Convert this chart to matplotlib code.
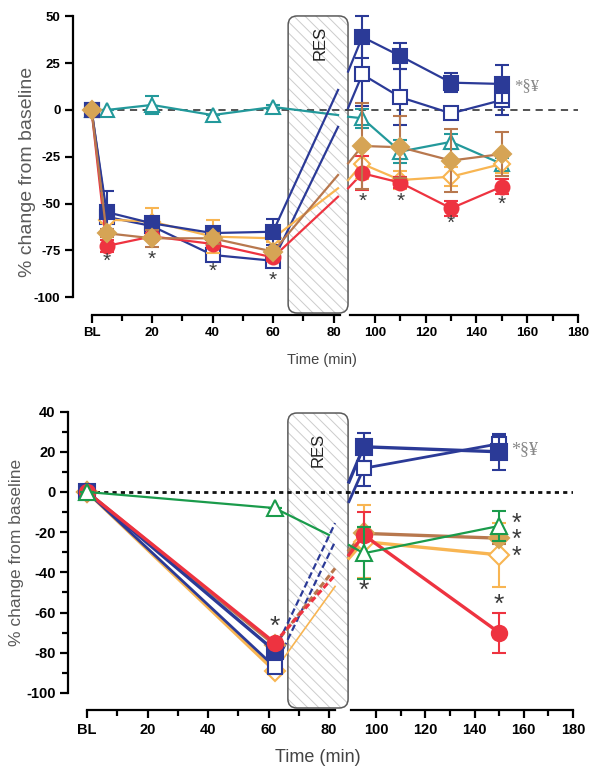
import matplotlib
matplotlib.use("Agg")
import matplotlib.pyplot as plt
from matplotlib.patches import FancyBboxPatch

plt.rcParams['font.family'] = ['Liberation Sans', 'DejaVu Sans']
plt.rcParams['hatch.linewidth'] = 0.7
plt.rcParams['axes.unicode_minus'] = False

# ---------------- data: top panel ----------------
top_t_pre = [0, 5, 20, 40, 60]
top_t_post = [95, 110, 130, 150]
top_t_exit = 81.5   # line end entering RES
top_t_entry = 89.4  # line start leaving RES

top_blue_f_pre = [0, -54.5, -60.5, -65.7, -65]
top_blue_f_pre_err = [0, 11, 3, 3, 7]
top_blue_f_exit = 10.7
top_blue_f_entry = 20.5
top_blue_f_post = [39, 28.8, 14.6, 13.9]
top_blue_f_post_err = [11, 7, 5, 10]

top_blue_o_pre = [0, -57, -62, -77.4, -80.5]
top_blue_o_pre_err = [0, 3, 3, 3, 2]
top_blue_o_exit = -9
top_blue_o_entry = 1
top_blue_o_post = [19, 6.8, -1.8, 5.3]
top_blue_o_post_err = [17, 15, 3, 8]

top_teal_pre = [0, 0, 2.7, -2.7, 1.6]
top_teal_pre_err = [0, 0, 4.8, 0, 1]
top_teal_exit = -2.7
top_teal_entry = -3.6
top_teal_post = [-4.4, -22.2, -17, -28.8]
top_teal_post_err = [5, 6, 4, 3]

top_orange_pre = [0, -58.5, -59.6, -67.6, -68.5]
top_orange_pre_err = [0, 2, 7.5, 9, 2]
top_orange_exit = -41.8
top_orange_entry = -37.5
top_orange_post = [-28.8, -37.4, -35.6, -28.8]
top_orange_post_err = [8, 5, 5, 5]

top_red_pre = [0, -72.6, -67.5, -71.5, -78.7]
top_red_pre_err = [0, 3, 2, 2, 2]
top_red_exit = -46.3
top_red_entry = -41.8
top_red_post = [-33.8, -38.8, -52.5, -40.9]
top_red_post_err = [9, 3, 4, 4]

top_brown_pre = [0, -65.8, -68.5, -68.5, -75.6]
top_brown_pre_err = [0, 2, 4.5, 3, 2]
top_brown_exit = -34.7
top_brown_entry = -28.5
top_brown_post = [-19.2, -19.9, -27, -23.5]
top_brown_post_err = [23, 16.5, 16.6, 12]

top_star_pre_t = [5, 20, 40, 60]
top_star_pre_y = [-81, -79.7, -86.3, -90.8]
top_star_post_t = [95, 110, 130, 150]
top_star_post_y = [-49, -49, -60.5, -50.5]

# ---------------- data: bottom panel ----------------
bot_t_pre = [0, 62]
bot_t_post = [95, 150]
bot_t_exit = 82
bot_t_green_exit = 80
bot_t_entry = 89

bot_blue_f_pre = [0, -79]
bot_blue_f_exit = -15.5
bot_blue_f_entry = 5
bot_blue_f_post = [22.5, 20]
bot_blue_f_post_err = [7, 9]

bot_blue_o_pre = [0, -87]
bot_blue_o_exit = -24.7
bot_blue_o_entry = -4.8
bot_blue_o_post = [11.8, 24]
bot_blue_o_post_err = [9, 4]

bot_green_pre = [0, -8]
bot_green_exit = -21.4
bot_green_entry = -26.4
bot_green_post = [-30.5, -16.9]
bot_green_post_err = [13, 7.5]

bot_orange_pre = [0, -89]
bot_orange_exit = -47
bot_orange_entry = -33
bot_orange_post = [-24.7, -31.3]
bot_orange_post_err = [18, 16]

bot_brown_pre = [0, -76]
bot_brown_exit = -38
bot_brown_entry = -29
bot_brown_post = [-20.6, -23]
bot_brown_post_err = [3, 3]

bot_red_pre = [0, -75]
bot_red_exit = -41.3
bot_red_entry = -31.3
bot_red_post = [-21.4, -70]
bot_red_post_err = [11.5, 10]

bot_star_t = [62, 95, 150]
bot_star_y = [-67, -49, -56]
bot_side_star_y_mid = -24  # centre of the three stacked asterisks right of t=150

# ---------------- colours ----------------
BLUE = '#2B3A97'
TEAL = '#23999B'
ORANGE = '#F8B552'
RED = '#EE3340'
BROWN = '#B8784E'
GOLD = '#D6A455'
GREEN = '#1A9B4B'
STAR = '#3a3a3a'

W, H = 600, 776
fig = plt.figure(figsize=(W / 100, H / 100), dpi=100)


def ax_px(left, right, top, bottom):
    return fig.add_axes([left / W, (H - bottom) / H, (right - left) / W, (bottom - top) / H])


def style_axes(ax, left_side, xb, fs):
    ax.set_facecolor('none')
    for s in ['top', 'right']:
        ax.spines[s].set_visible(False)
    ax.spines['bottom'].set_linewidth(1.6)
    ax.spines['bottom'].set_bounds(*xb)
    ax.tick_params(axis='both', direction='out', width=1.6, length=6, labelsize=fs, pad=3)
    ax.tick_params(axis='x', which='minor', direction='out', width=1.6, length=4)
    for lab in ax.get_xticklabels() + ax.get_yticklabels():
        lab.set_fontweight('bold')
    if not left_side:
        ax.spines['left'].set_visible(False)
        ax.tick_params(axis='y', left=False, labelleft=False)


def series(axL, axR, t_pre, pre, pre_err, t_exit, ex, t_entry, en, t_post, post, post_err,
           color, marker, mfc, mec, lw, ms, z, exit_ls='-', exit_lw=None):
    axL.plot([t_pre[-1], t_exit], [pre[-1], ex], color=color, lw=exit_lw or lw,
             ls=exit_ls, zorder=z - 0.5, clip_on=False)
    axL.errorbar(t_pre, pre, yerr=pre_err, color=color, lw=lw, marker=marker, ms=ms,
                 mfc=mfc, mec=mec, mew=1.5, capsize=5, capthick=1.5, elinewidth=1.5,
                 zorder=z, clip_on=False)
    axR.plot([t_entry, t_post[0]], [en, post[0]], color=color, lw=lw, zorder=z - 0.5, clip_on=False)
    axR.errorbar(t_post, post, yerr=post_err, color=color, lw=lw, marker=marker, ms=ms,
                 mfc=mfc, mec=mec, mew=1.5, capsize=5, capthick=1.5, elinewidth=1.5,
                 zorder=z, clip_on=False)


def res_box(ax, x0, x1, y0, y1, aspect, tx, ty):
    hatch = FancyBboxPatch((x0, y0), x1 - x0, y1 - y0,
                           boxstyle='round,pad=0,rounding_size=3', mutation_aspect=aspect,
                           facecolor='white', edgecolor='#cccccc', lw=0, hatch='\\\\\\',
                           zorder=1, clip_on=False)
    ax.add_patch(hatch)
    edge = FancyBboxPatch((x0, y0), x1 - x0, y1 - y0,
                          boxstyle='round,pad=0,rounding_size=3', mutation_aspect=aspect,
                          facecolor='none', edgecolor='#5a5a5a', lw=1.1, zorder=1.2, clip_on=False)
    ax.add_patch(edge)
    ax.text(tx, ty, 'RES', rotation=90, ha='center', va='center', fontsize=12,
            color='#222222', zorder=1.3)


# =============== TOP PANEL ===============
aL = ax_px(73, 349, 14, 315)
aR = ax_px(346, 578, 14, 315)
aL.set_xlim(-6.12, 85.12)
aR.set_xlim(88.58, 180)
for a in (aL, aR):
    a.set_ylim(-109.45, 51.25)
aL.spines['left'].set_bounds(-100, 50)
aL.spines['left'].set_linewidth(1.6)
aL.set_yticks([-100, -75, -50, -25, 0, 25, 50])
aL.set_xticks([0, 20, 40, 60, 80])
aL.set_xticklabels(['BL', '20', '40', '60', '80'])
aL.set_xticks([10, 30, 50, 70], minor=True)
aR.set_xticks([100, 120, 140, 160, 180])
aR.set_xticks([110, 130, 150, 170], minor=True)
style_axes(aL, True, (0, 82), 9.5)
style_axes(aR, False, (90, 180), 9.5)

res_box(aL, 65, 84.8, -108.4, 50.2, 1.6, 75.5, 36)

aL.plot([0, 85.12], [0, 0], color='#444444', lw=1.3, ls=(0, (4, 3)), zorder=1.5)
aR.plot([88.58, 180], [0, 0], color='#444444', lw=1.3, ls=(0, (4, 3)), zorder=1.5)

series(aL, aR, top_t_pre, top_blue_f_pre, top_blue_f_pre_err, top_t_exit, top_blue_f_exit,
       top_t_entry, top_blue_f_entry, top_t_post, top_blue_f_post, top_blue_f_post_err,
       BLUE, 's', BLUE, BLUE, 1.6, 10, 5)
series(aL, aR, top_t_pre, top_blue_o_pre, top_blue_o_pre_err, top_t_exit, top_blue_o_exit,
       top_t_entry, top_blue_o_entry, top_t_post, top_blue_o_post, top_blue_o_post_err,
       BLUE, 's', 'white', BLUE, 1.6, 10, 4)
series(aL, aR, top_t_pre, top_teal_pre, top_teal_pre_err, top_t_exit, top_teal_exit,
       top_t_entry, top_teal_entry, top_t_post, top_teal_post, top_teal_post_err,
       TEAL, '^', 'white', TEAL, 1.6, 10, 4.2)
series(aL, aR, top_t_pre, top_orange_pre, top_orange_pre_err, top_t_exit, top_orange_exit,
       top_t_entry, top_orange_entry, top_t_post, top_orange_post, top_orange_post_err,
       ORANGE, 'D', 'white', ORANGE, 1.6, 8, 4.4)
series(aL, aR, top_t_pre, top_red_pre, top_red_pre_err, top_t_exit, top_red_exit,
       top_t_entry, top_red_entry, top_t_post, top_red_post, top_red_post_err,
       RED, 'o', RED, RED, 1.6, 10, 4.6)
series(aL, aR, top_t_pre, top_brown_pre, top_brown_pre_err, top_t_exit, top_brown_exit,
       top_t_entry, top_brown_entry, top_t_post, top_brown_post, top_brown_post_err,
       BROWN, 'D', GOLD, GOLD, 1.6, 9, 5.5)

for t, y in zip(top_star_pre_t, top_star_pre_y):
    aL.text(t, y, '*', ha='center', va='center', fontsize=15, color=STAR, zorder=6)
for t, y in zip(top_star_post_t, top_star_post_y):
    aR.text(t, y, '*', ha='center', va='center', fontsize=15, color=STAR, zorder=6)
aR.text(155, 12.5, '*§¥', ha='left', va='center', fontsize=12, color='#888888',
        family=['Liberation Serif', 'DejaVu Serif'], zorder=6)

fig.text(28 / W, 1 - 172 / H, '% change from baseline', rotation=90, ha='center', va='center',
         fontsize=14, color='#5a5a5a')
fig.text(322 / W, 1 - 360 / H, 'Time (min)', ha='center', va='center', fontsize=10.5,
         color='#444444')

# =============== BOTTOM PANEL ===============
bL = ax_px(68, 349, 410, 710)
bR = ax_px(346, 573, 410, 710)
bL.set_xlim(-6.28, 86.6)
bR.set_xlim(87.8, 180)
for a in (bL, bR):
    a.set_ylim(-108.5, 40.8)
bL.spines['left'].set_bounds(-100, 40)
bL.spines['left'].set_linewidth(1.6)
bL.set_yticks(list(range(-100, 41, 20)))
bL.set_yticks(list(range(-90, 40, 20)), minor=True)
bL.tick_params(axis='y', which='minor', direction='out', width=1.6, length=4)
bL.set_xticks([0, 20, 40, 60, 80])
bL.set_xticklabels(['BL', '20', '40', '60', '80'])
bL.set_xticks([10, 30, 50, 70], minor=True)
bR.set_xticks([100, 120, 140, 160, 180])
bR.set_xticks([110, 130, 150, 170], minor=True)
style_axes(bL, True, (0, 82), 10.5)
style_axes(bR, False, (90, 180), 10.5)

res_box(bL, 66.4, 86.3, -107.5, 39.3, 1.5, 76.3, 21)

bL.plot([0, 86.6], [0, 0], color='#111111', lw=2.0, ls=(0, (1.5, 1.5)), zorder=1.5)
bR.plot([87.8, 180], [0, 0], color='#111111', lw=2.0, ls=(0, (1.5, 1.5)), zorder=1.5)

zero2 = [0, 0]
series(bL, bR, bot_t_pre, bot_orange_pre, zero2, bot_t_exit, bot_orange_exit,
       bot_t_entry, bot_orange_entry, bot_t_post, bot_orange_post, bot_orange_post_err,
       ORANGE, 'D', 'white', ORANGE, 2.4, 10, 4, exit_lw=1.2)
series(bL, bR, bot_t_pre, bot_blue_o_pre, zero2, bot_t_exit, bot_blue_o_exit,
       bot_t_entry, bot_blue_o_entry, bot_t_post, bot_blue_o_post, bot_blue_o_post_err,
       BLUE, 's', 'white', BLUE, 2.0, 10, 4.2, exit_ls=(0, (3, 1.5)), exit_lw=1.6)
series(bL, bR, bot_t_pre, bot_brown_pre, zero2, bot_t_exit, bot_brown_exit,
       bot_t_entry, bot_brown_entry, bot_t_post, bot_brown_post, bot_brown_post_err,
       BROWN, 'D', GOLD, GOLD, 2.4, 10, 4.4, exit_ls=(0, (2, 1)), exit_lw=2.2)
series(bL, bR, bot_t_pre, bot_blue_f_pre, zero2, bot_t_exit, bot_blue_f_exit,
       bot_t_entry, bot_blue_f_entry, bot_t_post, bot_blue_f_post, bot_blue_f_post_err,
       BLUE, 's', BLUE, BLUE, 2.4, 11, 4.6, exit_ls=(0, (3, 1.5)), exit_lw=1.6)
series(bL, bR, bot_t_pre, bot_red_pre, zero2, bot_t_exit, bot_red_exit,
       bot_t_entry, bot_red_entry, bot_t_post, bot_red_post, bot_red_post_err,
       RED, 'o', RED, RED, 2.4, 11, 4.8, exit_ls=(0, (2, 1)), exit_lw=2.2)
series(bL, bR, bot_t_pre, bot_green_pre, zero2, bot_t_green_exit, bot_green_exit,
       bot_t_entry, bot_green_entry, bot_t_post, bot_green_post, bot_green_post_err,
       GREEN, '^', 'white', GREEN, 1.6, 11, 5)

for t, y in zip(bot_star_t, bot_star_y):
    a = bL if t < 85 else bR
    a.text(t, y, '*', ha='center', va='center', fontsize=19, color=STAR, zorder=6)
bR.text(157, bot_side_star_y_mid, '*\n*\n*', ha='center', va='center', fontsize=18,
        linespacing=0.62, color=STAR, zorder=6)
bR.text(155, 21, '*§¥', ha='left', va='center', fontsize=13, color='#888888',
        family=['Liberation Serif', 'DejaVu Serif'], zorder=6)

fig.text(17 / W, 1 - 552 / H, '% change from baseline', rotation=90, ha='center', va='center',
         fontsize=12.5, color='#5a5a5a')
fig.text(318 / W, 1 - 758 / H, 'Time (min)', ha='center', va='center', fontsize=13,
         color='#444444')

fig.savefig('out.png', dpi=100)
